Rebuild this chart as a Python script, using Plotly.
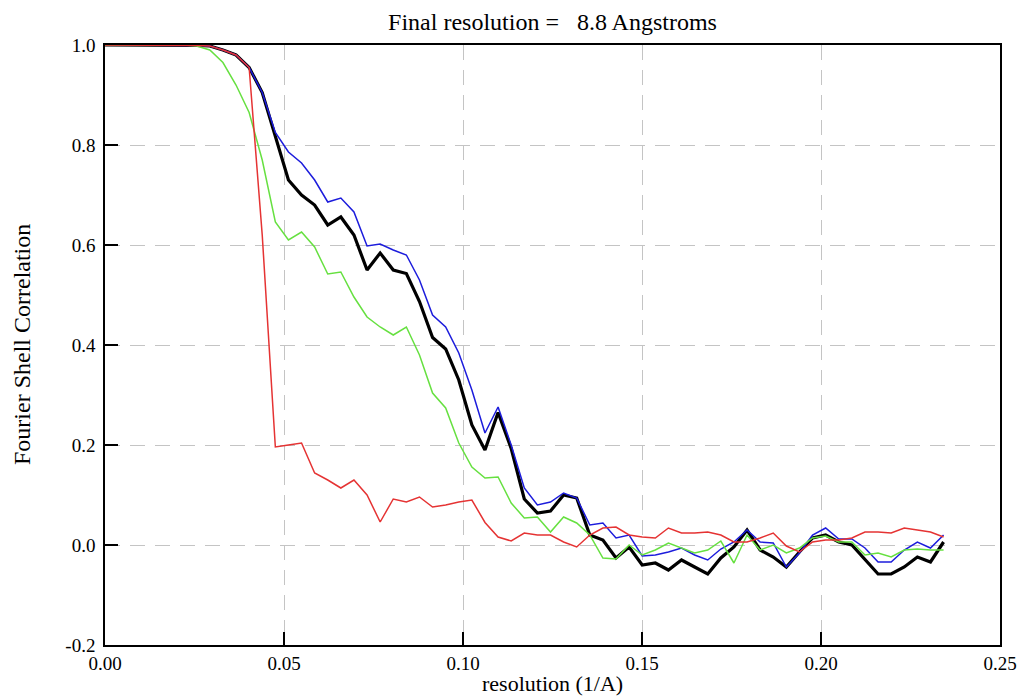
import numpy as np
import plotly.graph_objects as go

# shell spacing (1/A) and number of shells
dx = 0.00366
n_shells = 65
resolution = [round(i * dx, 5) for i in range(n_shells)]

fsc_black = [1.0, 1.0, 1.0, 1.0, 1.0, 1.0, 1.0, 0.999, 0.998, 0.99, 0.98, 0.955, 0.905, 0.82,
             0.73, 0.70, 0.68, 0.64, 0.656, 0.62, 0.55, 0.584, 0.55, 0.543, 0.487, 0.415,
             0.392, 0.33, 0.24, 0.19, 0.265, 0.193, 0.092, 0.064, 0.068, 0.10, 0.094, 0.02,
             0.01, -0.026, -0.004, -0.04, -0.036, -0.05, -0.03, -0.044, -0.058, -0.026,
             -0.004, 0.03, -0.01, -0.024, -0.044, -0.014, 0.014, 0.02, 0.006, 0.0, -0.03,
             -0.058, -0.058, -0.044, -0.024, -0.034, 0.006]

fsc_blue = [1.0, 1.0, 1.0, 1.0, 1.0, 1.0, 1.0, 0.999, 0.998, 0.99, 0.98, 0.955, 0.905, 0.825,
            0.786, 0.764, 0.73, 0.686, 0.694, 0.666, 0.598, 0.602, 0.59, 0.58, 0.53, 0.46,
            0.436, 0.384, 0.31, 0.224, 0.276, 0.2, 0.114, 0.08, 0.086, 0.104, 0.094, 0.04,
            0.044, 0.014, 0.02, -0.022, -0.02, -0.014, -0.006, -0.02, -0.03, -0.008,
            0.006, 0.03, 0.006, 0.004, -0.044, -0.016, 0.02, 0.034, 0.012, 0.012, -0.006,
            -0.034, -0.034, -0.01, 0.006, -0.006, 0.02]

fsc_green = [1.0, 1.0, 1.0, 1.0, 1.0, 1.0, 1.0, 0.998, 0.99, 0.965, 0.92, 0.865, 0.77, 0.646,
             0.61, 0.626, 0.596, 0.542, 0.546, 0.496, 0.456, 0.436, 0.42, 0.436, 0.38, 0.304,
             0.274, 0.204, 0.156, 0.134, 0.136, 0.084, 0.054, 0.056, 0.026, 0.056, 0.044, 0.02,
             -0.026, -0.028, 0.0, -0.02, -0.01, 0.004, -0.006, -0.016, -0.01, 0.008,
             -0.036, 0.02, -0.01, 0.0, -0.016, -0.006, 0.014, 0.018, 0.006, 0.006, -0.02,
             -0.016, -0.024, -0.01, -0.008, -0.01, -0.01]

fsc_red = [1.0, 1.0, 1.0, 1.0, 1.0, 1.0, 1.0, 0.999, 0.998, 0.99, 0.98, 0.955, 0.62, 0.196,
           0.20, 0.204, 0.144, 0.13, 0.114, 0.13, 0.10, 0.046, 0.092, 0.086, 0.096, 0.076,
           0.08, 0.086, 0.09, 0.045, 0.016, 0.008, 0.024, 0.02, 0.02, 0.006, -0.004, 0.02,
           0.034, 0.036, 0.02, 0.016, 0.014, 0.034, 0.024, 0.024, 0.026, 0.02,
           0.006, 0.006, 0.014, 0.024, -0.002, -0.014, 0.006, 0.01, 0.01, 0.014, 0.026,
           0.026, 0.024, 0.034, 0.03, 0.026, 0.016]

x_ticks = [0.0, 0.05, 0.10, 0.15, 0.20, 0.25]
x_tick_text = ["0.00", "0.05", "0.10", "0.15", "0.20", "0.25"]
y_ticks = [-0.2, 0.0, 0.2, 0.4, 0.6, 0.8, 1.0]
y_tick_text = ["-0.2", "0.0", "0.2", "0.4", "0.6", "0.8", "1.0"]

FONT = "Liberation Serif, Times New Roman, serif"

fig = go.Figure()
fig.add_trace(go.Scatter(x=resolution, y=fsc_black, mode="lines",
                         line=dict(color="#000000", width=3.2), showlegend=False))
fig.add_trace(go.Scatter(x=resolution, y=fsc_blue, mode="lines",
                         line=dict(color="#1c1cdc", width=1.5), showlegend=False))
fig.add_trace(go.Scatter(x=resolution, y=fsc_green, mode="lines",
                         line=dict(color="#66e040", width=1.5), showlegend=False))
fig.add_trace(go.Scatter(x=resolution, y=fsc_red, mode="lines",
                         line=dict(color="#e53333", width=1.5), showlegend=False))

axis_common = dict(
    showline=True, linecolor="#000000", linewidth=1.5, mirror=True,
    ticks="inside", ticklen=13, tickwidth=1.5, tickcolor="#000000",
    showgrid=True, gridcolor="#c4c4c4", gridwidth=1.2, griddash="15px,10px",
    zeroline=False, automargin=False,
    tickfont=dict(family=FONT, size=19, color="#000000"),
)

fig.update_layout(
    width=1017, height=696,
    paper_bgcolor="white", plot_bgcolor="white",
    margin=dict(l=105, r=17, t=45, b=51, autoexpand=False),
    font=dict(family=FONT, color="#000000"),
    title=dict(text="Final resolution =   8.8 Angstroms", x=0.5, xref="paper",
               xanchor="center", y=1 - 22 / 696, yanchor="middle", yref="container",
               font=dict(family=FONT, size=24, color="#000000")),
    xaxis=dict(range=[0, 0.25], tickvals=x_ticks, ticktext=x_tick_text,
               ticklabelstandoff=0, **axis_common),
    yaxis=dict(range=[-0.2, 1.0], tickvals=y_ticks, ticktext=y_tick_text,
               ticklabelstandoff=4, **axis_common),
    annotations=[
        dict(text="resolution (1/A)", xref="paper", yref="paper", x=0.5, y=-38 / 600,
             xanchor="center", yanchor="middle", showarrow=False,
             font=dict(family=FONT, size=22, color="#000000")),
        dict(text="Fourier Shell Correlation", xref="paper", yref="paper",
             x=-83 / 895, y=0.5, xanchor="center", yanchor="middle", textangle=-90,
             showarrow=False, font=dict(family=FONT, size=24, color="#000000")),
    ],
)

# remove the page's default 8px body margin so the figure fills the window exactly
fig.write_html("out.html",
               config={"displayModeBar": False},
               post_script="document.body.style.margin='0';document.body.style.overflow='hidden';")
